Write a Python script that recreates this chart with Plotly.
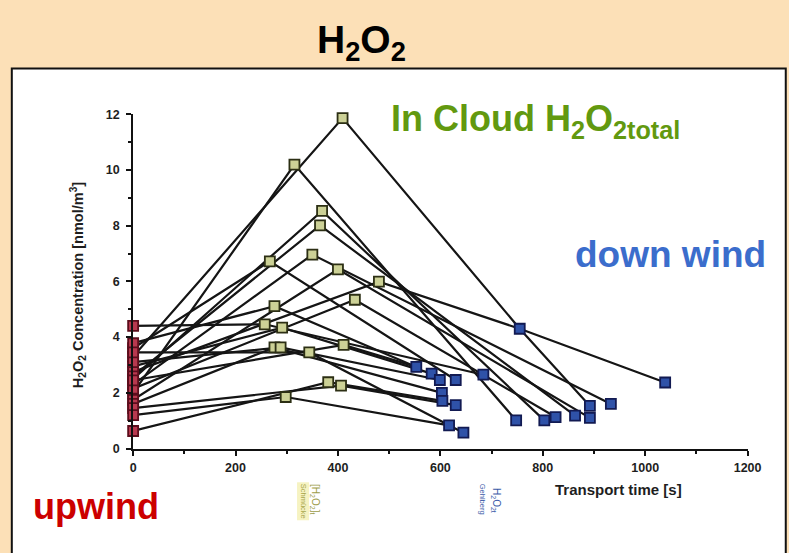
import plotly.graph_objects as go

W, H = 789, 553

# Upwind (t = 0) H2O2 concentrations, one per trajectory [nmol/m3]
upwind_h2o2 = [3.3, 2.0, 2.5, 2.6, 3.6, 2.3, 1.75, 2.75, 2.15, 3.78,
               4.4, 2.95, 1.6, 3.1, 3.45, 2.45, 0.63, 1.45, 1.2]

# In-cloud total H2O2 at the summit station
cloud_time = [409, 315, 369, 365, 267, 350, 400, 480, 433, 276,
              257, 291, 276, 288, 344, 411, 381, 406, 298]
cloud_h2o2 = [11.86, 10.19, 8.53, 8.01, 6.72, 6.96, 6.43, 5.99, 5.34, 5.11,
              4.46, 4.34, 3.63, 3.63, 3.45, 3.72, 2.38, 2.26, 1.85]

# Downwind samples
down_time = [755, 1039, 553, 583, 599, 630, 684, 603, 604, 630,
             617, 645, 748, 803, 825, 863, 892, 892, 933]
down_h2o2 = [4.30, 2.37, 2.93, 2.69, 2.46, 2.46, 2.65, 2.00, 1.71, 1.56,
             0.83, 0.57, 1.01, 1.01, 1.13, 1.18, 1.53, 1.10, 1.60]

# Downwind samples reached by each trajectory (indices into down_*)
down_path = [[0, 16], [12], [13], [15], [5], [18], [17], [0, 1], [14], [2],
             [6], [3], [7], [4], [11], [2], [8], [9], [10]]

x_ticks = [0, 200, 400, 600, 800, 1000, 1200]
y_ticks = [0, 2, 4, 6, 8, 10, 12]


def px(x):
    return x / W


def py(y):
    return 1 - y / H


fig = go.Figure()

# trajectory lines
lx, ly = [], []
for i, path in enumerate(down_path):
    lx += [0, cloud_time[i]] + [down_time[j] for j in path] + [None]
    ly += [upwind_h2o2[i], cloud_h2o2[i]] + [down_h2o2[j] for j in path] + [None]
fig.add_trace(go.Scatter(x=lx, y=ly, mode="lines",
                         line=dict(color="#151515", width=2.2),
                         hoverinfo="skip", cliponaxis=False))


def squares(x, y, fill, edge):
    fig.add_trace(go.Scatter(
        x=x, y=y, mode="markers", cliponaxis=False,
        marker=dict(symbol="square", size=10, color=fill,
                    line=dict(color=edge, width=1.8))))


squares([0] * len(upwind_h2o2), upwind_h2o2, "#b8394f", "#5c0d1c")
squares(cloud_time, cloud_h2o2, "#ccd196", "#2c2f14")
squares(down_time, down_h2o2, "#2f52a8", "#121a52")

tick_font = dict(family="Arial", size=12.5, color="#1e1e1e", weight="bold")

fig.update_xaxes(
    range=[0, 1200], domain=[px(133), px(761)],
    tickvals=x_ticks, ticktext=[str(v) for v in x_ticks],
    showline=True, linecolor="#111", linewidth=2,
    ticks="outside", ticklen=5, tickwidth=2, tickcolor="#111",
    minor=dict(dtick=100, ticks="outside", ticklen=3, tickwidth=1.5, tickcolor="#111"),
    showgrid=False, zeroline=False, tickfont=tick_font, ticklabelstandoff=1,
)
fig.update_yaxes(
    range=[0, 12], domain=[py(453), py(110)],
    tickvals=y_ticks, ticktext=[str(v) for v in y_ticks],
    showline=True, linecolor="#111", linewidth=2,
    ticks="outside", ticklen=5, tickwidth=2, tickcolor="#111",
    minor=dict(dtick=1, ticks="outside", ticklen=3, tickwidth=1.5, tickcolor="#111"),
    showgrid=False, zeroline=False, tickfont=tick_font, ticklabelstandoff=4,
)

shapes = [
    # white panel with a dark frame on its top and left edges
    dict(type="rect", xref="paper", yref="paper",
         x0=px(9), x1=px(800), y0=py(575), y1=py(63),
         fillcolor="white", line=dict(color="#111", width=2), layer="below"),
]

ann = [
    dict(text="<b>H<sub>2</sub>O<sub>2</sub></b>", x=px(366), y=py(36),
         font=dict(family="Arial", size=39, color="black")),
    dict(text="<b>In Cloud H<sub>2</sub>O<sub>2total</sub></b>", x=px(394), y=py(117),
         xanchor="left", font=dict(family="Arial", size=36, color="#62990f")),
    dict(text="<b>down wind</b>", x=px(682), y=py(254),
         font=dict(family="Arial", size=37, color="#3b6dcc")),
    dict(text="<b>upwind</b>", x=px(95), y=py(512),
         font=dict(family="Arial", size=36, color="#cc0000")),
    dict(text="<b>H<sub>2</sub>O<sub>2</sub> Concentration [nmol/m<sup>3</sup>]</b>",
         x=px(76), y=py(285), textangle=-90,
         font=dict(family="Arial", size=14.5, color="#1e1e1e")),
    dict(text="<b>Transport time [s]</b>", x=px(629), y=py(495),
         font=dict(family="Arial", size=15, color="#1e1e1e")),
    # station labels printed sideways below the axis
    dict(text="Schmücke", x=px(307), y=py(507), textangle=90,
         bgcolor="#f6f3c2", font=dict(family="Arial", size=7.5, color="#a8a64a")),
    dict(text="[H<sub>2</sub>O<sub>2</sub>]<sub>t</sub>", x=px(319), y=py(505), textangle=90,
         font=dict(family="Arial", size=10, color="#9c9c48")),
    dict(text="Gehlberg", x=px(490), y=py(505), textangle=90,
         font=dict(family="Arial", size=7.5, color="#3a5aa8")),
    dict(text="H<sub>2</sub>O<sub>2t</sub>", x=px(504), y=py(506), textangle=90,
         font=dict(family="Arial", size=10, color="#3a5aa8")),
]
for a in ann:
    a.setdefault("xref", "paper")
    a.setdefault("yref", "paper")
    a.setdefault("showarrow", False)
    a.setdefault("xanchor", "center")
    a.setdefault("yanchor", "middle")

fig.update_layout(
    width=W, height=H, margin=dict(l=0, r=0, t=0, b=0),
    paper_bgcolor="#fce0b7", plot_bgcolor="rgba(0,0,0,0)",
    showlegend=False, shapes=shapes, annotations=ann,
)

fig.write_html("out.html")
